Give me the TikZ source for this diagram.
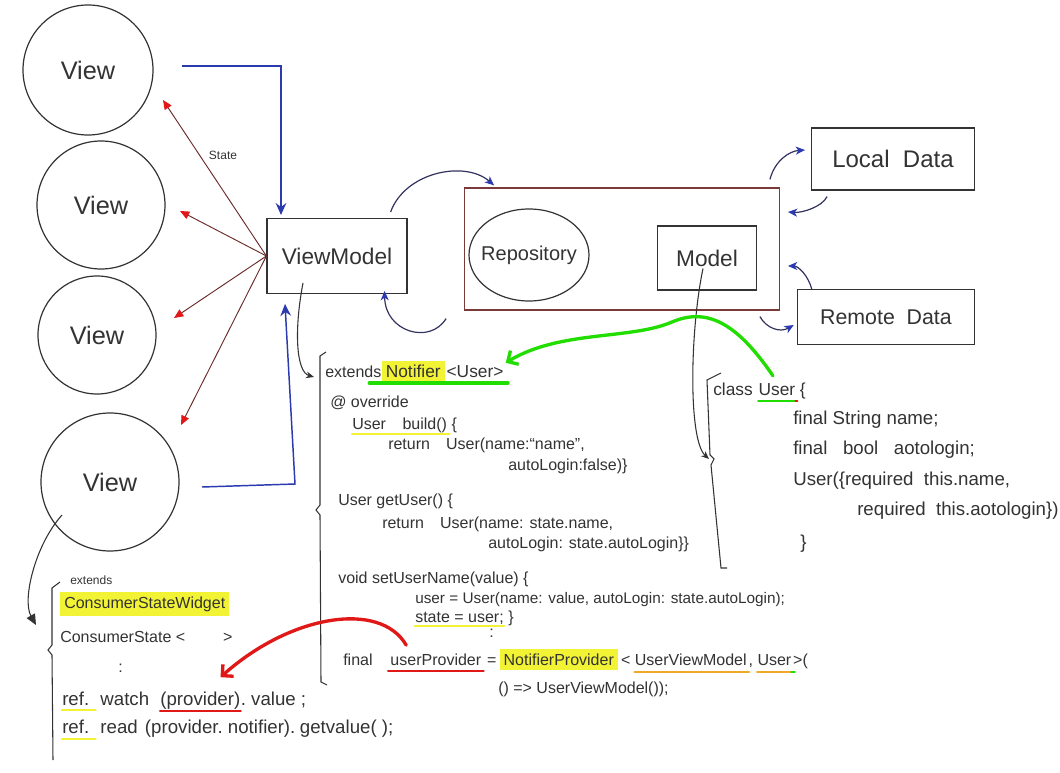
\documentclass[tikz,border=0pt]{standalone}
\usepackage{fontspec}
\setmainfont{Liberation Sans}
\usetikzlibrary{shapes.geometric,arrows.meta}
\definecolor{ink}{HTML}{333333}
\definecolor{bluei}{HTML}{2C3AB0}
\definecolor{navyi}{HTML}{33335E}
\definecolor{brn}{HTML}{6B2B2B}
\definecolor{rbox}{HTML}{7A3A3A}
\definecolor{hly}{HTML}{F3F336}
\definecolor{grn}{HTML}{22DD00}
\definecolor{redi}{HTML}{E01818}
\definecolor{orng}{HTML}{F0A828}
\begin{document}
\begin{tikzpicture}[x=0.75pt,y=-0.75pt,
  ln/.style={draw=ink, line width=0.9pt},
  viewc/.style={circle, ln, text=ink, font=\fontsize{19}{22}\selectfont, inner sep=0pt},
  boxn/.style={rectangle, ln, text=ink, inner sep=0pt},
  code/.style={text=ink, font=\fontsize{12}{14}\selectfont, inner sep=0pt, anchor=base west},
  codem/.style={code, font=\fontsize{11.5}{14}\selectfont},
  codeb/.style={code, font=\fontsize{14}{16}\selectfont},
  codes/.style={code, font=\fontsize{13}{15}\selectfont},
  hl/.style={fill=hly, inner xsep=3pt, inner ysep=3.5pt},
  stl/.style={draw=brn, line width=0.7pt, -{Triangle[length=7pt,width=6pt,color=redi]}},
  bl/.style={draw=bluei, line width=1.1pt, -{Stealth[length=9pt,width=8pt,inset=3pt]}},
  nav/.style={draw=navyi, line width=0.9pt, -{Stealth[length=7pt,width=6pt,inset=2pt,color=bluei]}},
  gk/.style={draw=ink, line width=0.8pt, -{Stealth[length=6pt,width=5pt]}},
  brk/.style={draw=ink, line width=0.8pt},
  ul/.style={line width=2.2pt, line cap=round},
]
\useasboundingbox (0,0) rectangle (1060,773);
\fill[white] (0,0) rectangle (1060,773);

% Views
\node[viewc, minimum size=97.5pt] (v1) at (88,70) {View};
\node[viewc, minimum size=96pt] (v2) at (101,205) {View};
\node[viewc, minimum size=88.5pt] (v3) at (97,335) {View};
\node[viewc, minimum size=103.5pt] (v4) at (110,482) {View};

% ViewModel
\node[boxn, minimum width=105pt, minimum height=56pt, font=\fontsize{17}{20}\selectfont] (vm) at (337,256) {ViewModel};

% Repository group
\node[rectangle, draw=rbox, line width=0.9pt, minimum width=236pt, minimum height=91.5pt, inner sep=0pt] (repo) at (622,249) {};
\node[ellipse, ln, minimum width=90pt, minimum height=69pt, inner sep=0pt] (rep) at (529,255) {};
\node[text=ink, font=\fontsize{15}{17}\selectfont, inner sep=0pt] (replbl) at (rep.center) {Repository};
\node[boxn, minimum width=74pt, minimum height=48pt, font=\fontsize{17}{20}\selectfont] (mdl) at (707,258) {Model};
\node[boxn, minimum width=122pt, minimum height=46.5pt, font=\fontsize{18}{21}\selectfont] (loc) at (893,159) {Local\ \ Data};
\node[boxn, minimum width=133pt, minimum height=41pt, font=\fontsize{16}{19}\selectfont] (rem) at (886,317) {Remote\ \ Data};

\node[text=ink, font=\fontsize{9}{11}\selectfont] (st) at (223,155) {State};

% State arrows
\coordinate (t1) at (163,100);
\coordinate (t2) at (180,211);
\coordinate (t3) at (174,318);
\coordinate (t4) at (181,425);
\draw[stl] (vm.west) -- (t1);
\draw[stl] (vm.west) -- (t2);
\draw[stl] (vm.west) -- (t3);
\draw[stl] (vm.west) -- (t4);

% blue event arrows
\coordinate (b1s) at (182,66);
\coordinate (b1e) at (281,215);
\draw[bl] (b1s) -| (b1e);
\coordinate (b2s) at (202,487);
\coordinate (b2c) at (295,484);
\coordinate (b2e) at (285,304);
\draw[bl] (b2s) -- (b2c) -- (b2e);

% repository arrows
\draw[nav] ([shift={(-17,-6)}]vm.north east) .. controls (405,172) and (465,160) .. ([shift={(30,-2)}]repo.north west);
\draw[nav] ([shift={(-18,8)}]repo.south west) .. controls (430,345) and (385,332) .. ([shift={(-23,-3)}]vm.south east);
\draw[nav] ([shift={(-10,-8)}]repo.north east) .. controls (775,160) and (790,151) .. ([shift={(-6,-9)}]loc.west);
\draw[nav] ([shift={(16,6)}]loc.south west) .. controls (822,207) and (802,213) .. ([shift={(8,-37)}]repo.east);
\draw[nav] ([shift={(15,0)}]rem.north west) .. controls (808,275) and (798,266) .. ([shift={(8,17)}]repo.east);
\draw[nav] ([shift={(-20,6)}]repo.south east) .. controls (766,328) and (780,333) .. ([shift={(-3,8)}]rem.west);

% brackets
\draw[brk] (326,352) -- (320,356) -- (320,505) -- (316,510) -- (320,515) -- (321,682) -- (327,685);
\draw[brk] (721,373) -- (707,380) -- (710,455) -- (714,459) -- (711,465) -- (721,568) -- (727,568);
\draw[brk] (60,582) -- (52,588) -- (52,645) -- (48,650) -- (52,655) -- (53,760);
\coordinate (br1) at (314,377);
\coordinate (br2) at (709,459);
\coordinate (br3) at (36,625);

% code block 1
\node[code] (c1a) at (325,378) {extends};
\node[codes, hl] (c1b) at ([xshift=0pt]c1a.base east) {Notifier};
\node[codes] (c1c) at ([xshift=1pt]c1b.base east) {<User>};
\node[code] (c2) at (330,407) {@ override};
\node[code] (c3a) at (352,430) {User};
\node[code] (c3b) at ([xshift=12pt]c3a.base east) {build()};
\node[code] (c3c) at ([xshift=3pt]c3b.base east) {\{};
\node[code] (c4) at (388,450) {return\quad User(name:“name”,};
\node[code] (c5) at (508,470) {autoLogin:false)\}};
\node[code] (c6) at (338,505) {User getUser() \{};
\node[code] (c7) at (382,528) {return\quad User(name: state.name,};
\node[code] (c8) at (488,548) {autoLogin: state.autoLogin\}\}};
\node[code] (c9) at (338,583) {void setUserName(value) \{};
\node[codem] (c10) at (415,603) {user = User(name: value, autoLogin: state.autoLogin);};
\node[code] (c11a) at (415,622) {state = user;};
\node[code] (c11b) at ([xshift=3pt]c11a.base east) {\}};
\node[code] (c12) at (489,637) {:};
\node[code] (c13a) at (343,665) {final};
\node[code] (c13b) at ([xshift=13pt]c13a.base east) {userProvider};
\node[code] (c13c) at ([xshift=4pt]c13b.base east) {=};
\node[code, hl] (c13d) at ([xshift=2pt]c13c.base east) {NotifierProvider};
\node[code] (c13e) at ([xshift=2pt]c13d.base east) {<};
\node[code] (c13f) at ([xshift=3pt]c13e.base east) {UserViewModel};
\node[code] (c13g) at ([xshift=1pt]c13f.base east) {,};
\node[code] (c13h) at ([xshift=3pt]c13g.base east) {User};
\node[code] (c13i) at ([xshift=1pt]c13h.base east) {>(};
\node[code] (c14) at (498,693) {() => UserViewModel());};

% code block 2
\node[codes] (d1a) at (713,396) {class};
\node[codes] (d1b) at ([xshift=4pt]d1a.base east) {User};
\node[codes] (d1c) at ([xshift=3pt]d1b.base east) {\{};
\node[codeb] (d2) at (793,425) {final String name;};
\node[codeb] (d3) at (793,455) {final\ \ \ bool\ \ \ aotologin;};
\node[codeb] (d4) at (793,485) {User(\{required\ \ this.name,};
\node[codeb] (d5) at (857,515) {required\ \ this.aotologin\})};
\node[codeb] (d6) at (800,548) {\}};

% code block 3
\node[code, font=\fontsize{9}{11}\selectfont] (e0) at (70,584) {extends};
\node[code, hl] (e1) at (60,608) {ConsumerStateWidget};
\node[code] (e2a) at (60,642) {ConsumerState};
\node[code] (e2b) at ([xshift=3pt]e2a.base east) {<};
\node[code] (e2c) at ([xshift=28pt]e2b.base east) {>};
\node[code] (e3) at (118,672) {:};
\node[codeb] (e4a) at (62,705) {ref.};
\node[codeb] (e4b) at ([xshift=8pt]e4a.base east) {watch};
\node[codeb] (e4c) at ([xshift=8pt]e4b.base east) {(provider)};
\node[codeb] (e4d) at (e4c.base east) {.\ value\ ;};
\node[codeb] (e5a) at (62,733) {ref.};
\node[codeb] (e5b) at ([xshift=8pt]e5a.base east) {read};
\node[codeb] (e5c) at ([xshift=5pt]e5b.base east) {(provider.\ notifier).};
\node[codeb] (e5d) at ([xshift=3pt]e5c.base east) {getvalue(\ );};

% underlines
\draw[ul, grn, line width=3pt] ([shift={(-12,5)}]c1b.base west) -- ([shift={(4,5)}]c1c.base east);
\draw[ul, hly] ([shift={(0,4)}]c3a.base west) -- ([shift={(2,4)}]c3b.base east);
\draw[ul, hly] ([shift={(0,4)}]c11a.base west) -- ([shift={(0,4)}]c11a.base east);
\draw[ul, redi] ([shift={(-2,6)}]c13b.base west) -- ([shift={(2,6)}]c13b.base east);
\draw[ul, orng] ([shift={(0,7)}]c13f.base west) -- ([shift={(2,7)}]c13f.base east);
\draw[ul, orng] ([shift={(0,7)}]c13h.base west) -- ([shift={(0,7)}]c13h.base east);
\draw[ul, grn] ([shift={(0,7)}]c13h.base east) -- ([shift={(3,7)}]c13h.base east);
\draw[ul, grn] ([shift={(0,5)}]d1b.base west) -- ([shift={(0,5)}]d1b.base east);
\draw[ul, redi, line width=1.5pt] ([shift={(0,5)}]d1b.base east) -- ([shift={(2,5)}]d1b.base east);
\draw[ul, hly] ([shift={(0,5)}]e4a.base west) -- ([shift={(6,5)}]e4a.base east);
\draw[ul, hly] ([shift={(0,6)}]e5a.base west) -- ([shift={(6,6)}]e5a.base east);
\draw[ul, redi] ([shift={(0,6)}]e4c.base west) -- ([shift={(0,6)}]e4c.base east);

% connectors to code
\draw[gk] ([shift={(-34,-11)}]vm.south) .. controls (294,330) and (296,372) .. (br1);
\draw[gk] ([shift={(-4,-22)}]mdl.south) .. controls (690,330) and (688,440) .. (br2);
\draw[draw=ink, line width=0.8pt, -{Triangle[length=8pt,width=7pt]}] ([shift={(-48,33)}]v4.center) .. controls (35,545) and (22,600) .. (br3);

% green and red arrows
\draw[grn, line width=2.5pt, line cap=round, -{Straight Barb[length=6pt,width=12pt]}] ([shift={(-4,-8)}]d1b.north) .. controls (735,320) and (705,308) .. (672,322) .. controls (630,340) and (560,330) .. ([shift={(2,-3)}]c1c.north east);
\draw[redi, line width=2.5pt, line cap=round, -{Straight Barb[length=6pt,width=12pt]}] ([shift={(16,-8)}]c13b.north west) .. controls (380,600) and (290,615) .. ([shift={(-20,-14)}]e4c.north east);
\end{tikzpicture}
\end{document}
